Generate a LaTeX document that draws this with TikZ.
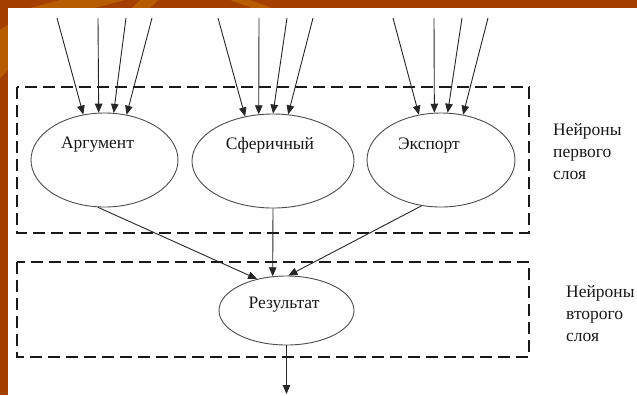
\documentclass[tikz,border=0pt]{standalone}
\usepackage{fontspec}
\setmainfont{Liberation Serif}
\newfontfamily\slidefont{Liberation Serif}
\usetikzlibrary{shapes.geometric,arrows.meta}
\definecolor{bgorange}{HTML}{A33F00}
\definecolor{bglight}{HTML}{B85C00}
\tikzset{
  neuron/.style={draw=black!70, line width=0.9bp, ellipse, inner sep=0pt},
  layerbox/.style={draw=black!90, line width=2.9bp, dash pattern=on 12bp off 6bp},
  conn/.style={draw=black!85, line width=0.9bp, -{Triangle[length=9bp,width=7.5bp]}},
  txt/.style={font=\slidefont\fontsize{17.5bp}{22bp}\selectfont, text=black!90, inner sep=0pt}
}
\begin{document}
\begin{tikzpicture}[x=1bp,y=-1bp]
    % slide background
    \fill[bgorange] (0,0) rectangle (637,395);
    \fill[bglight] (60,0) -- (125,0) -- (95,8) -- (30,8) -- cycle;
    \fill[bglight] (140,0) -- (158,0) -- (150,8) -- (132,8) -- cycle;
    \fill[bglight] (230,0) -- (250,0) -- (272,8) -- (252,8) -- cycle;
    \fill[bglight] (0,30) -- (8,25) -- (8,70) -- (0,78) -- cycle;
    \fill[white] (8,8) rectangle (637,395);
    \useasboundingbox (0,0) rectangle (637,395);
    % layers
    \draw[layerbox] (17,87) rectangle (529,233);
    \draw[layerbox] (17,262) rectangle (529,357);
    \node[txt, align=left, anchor=north west] (lay1) at (553,123) {Нейроны\\первого\\слоя};
    \node[txt, align=left, anchor=north west] (lay2) at (566,285) {Нейроны\\второго\\слоя};
    % neurons
    \node[neuron, minimum width=147bp, minimum height=94bp] (arg) at (104.5,160) {};
    \node[neuron, minimum width=162bp, minimum height=94bp] (sph) at (273,161) {};
    \node[neuron, minimum width=148bp, minimum height=94bp] (exp) at (441,160) {};
    \node[neuron, minimum width=135bp, minimum height=69bp] (res) at (286.5,310.5) {};
    \node[txt] (argtxt) at (97.5,145) {Аргумент};
    \node[txt] (sphtxt) at (270,145) {Сферичный};
    \node[txt] (exptxt) at (429,146) {Экспорт};
    \node[txt] (restxt) at (284,305) {Результат};
    % inputs
    \foreach \n/\x/\a in {arg/57/115, arg/98/97, arg/126/79, arg/152/64,
                          sph/218/122, sph/259/107, sph/287/90, sph/313/72,
                          exp/393/116, exp/434/98, exp/462/82, exp/488/64} {
        \coordinate (in) at (\x,18);
        \draw[conn] (in) -- (\n.\a);
    }
    % first layer to second layer
    \draw[conn] (arg.-98) -- (res.133);
    \draw[conn] (sph.south) -- (res.112);
    \draw[conn] (exp.247) -- (res.87);
    \coordinate (out) at (286.5,394);
    \draw[conn] (res.south) -- (out);
\end{tikzpicture}
\end{document}
